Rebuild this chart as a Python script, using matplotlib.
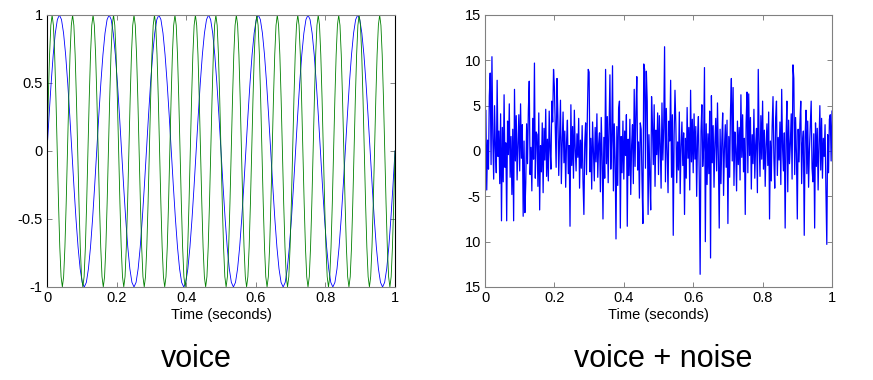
import numpy as np
import matplotlib
matplotlib.use("Agg")
import matplotlib.pyplot as plt

plt.rcParams['font.family'] = ['Liberation Sans', 'DejaVu Sans']

# voice tone 1 (7 Hz), 24 samples per cycle, one cycle per row
tone_low = [
    0, .259, .5, .707, .866, .966, 1, .966, .866, .707, .5, .259, 0, -.259, -.5, -.707, -.866, -.966, -1, -.966, -.866, -.707, -.5, -.259,
    0, .259, .5, .707, .866, .966, 1, .966, .866, .707, .5, .259, 0, -.259, -.5, -.707, -.866, -.966, -1, -.966, -.866, -.707, -.5, -.259,
    0, .259, .5, .707, .866, .966, 1, .966, .866, .707, .5, .259, 0, -.259, -.5, -.707, -.866, -.966, -1, -.966, -.866, -.707, -.5, -.259,
    0, .259, .5, .707, .866, .966, 1, .966, .866, .707, .5, .259, 0, -.259, -.5, -.707, -.866, -.966, -1, -.966, -.866, -.707, -.5, -.259,
    0, .259, .5, .707, .866, .966, 1, .966, .866, .707, .5, .259, 0, -.259, -.5, -.707, -.866, -.966, -1, -.966, -.866, -.707, -.5, -.259,
    0, .259, .5, .707, .866, .966, 1, .966, .866, .707, .5, .259, 0, -.259, -.5, -.707, -.866, -.966, -1, -.966, -.866, -.707, -.5, -.259,
    0, .259, .5, .707, .866, .966, 1, .966, .866, .707, .5, .259, 0, -.259, -.5, -.707, -.866, -.966, -1, -.966, -.866, -.707, -.5, -.259,
    0,
]

# voice tone 2 (17 Hz), 16 samples per cycle, one cycle per row
tone_high = [
    0, .383, .707, .924, 1, .924, .707, .383, 0, -.383, -.707, -.924, -1, -.924, -.707, -.383,
    0, .383, .707, .924, 1, .924, .707, .383, 0, -.383, -.707, -.924, -1, -.924, -.707, -.383,
    0, .383, .707, .924, 1, .924, .707, .383, 0, -.383, -.707, -.924, -1, -.924, -.707, -.383,
    0, .383, .707, .924, 1, .924, .707, .383, 0, -.383, -.707, -.924, -1, -.924, -.707, -.383,
    0, .383, .707, .924, 1, .924, .707, .383, 0, -.383, -.707, -.924, -1, -.924, -.707, -.383,
    0, .383, .707, .924, 1, .924, .707, .383, 0, -.383, -.707, -.924, -1, -.924, -.707, -.383,
    0, .383, .707, .924, 1, .924, .707, .383, 0, -.383, -.707, -.924, -1, -.924, -.707, -.383,
    0, .383, .707, .924, 1, .924, .707, .383, 0, -.383, -.707, -.924, -1, -.924, -.707, -.383,
    0, .383, .707, .924, 1, .924, .707, .383, 0, -.383, -.707, -.924, -1, -.924, -.707, -.383,
    0, .383, .707, .924, 1, .924, .707, .383, 0, -.383, -.707, -.924, -1, -.924, -.707, -.383,
    0, .383, .707, .924, 1, .924, .707, .383, 0, -.383, -.707, -.924, -1, -.924, -.707, -.383,
    0, .383, .707, .924, 1, .924, .707, .383, 0, -.383, -.707, -.924, -1, -.924, -.707, -.383,
    0, .383, .707, .924, 1, .924, .707, .383, 0, -.383, -.707, -.924, -1, -.924, -.707, -.383,
    0, .383, .707, .924, 1, .924, .707, .383, 0, -.383, -.707, -.924, -1, -.924, -.707, -.383,
    0, .383, .707, .924, 1, .924, .707, .383, 0, -.383, -.707, -.924, -1, -.924, -.707, -.383,
    0, .383, .707, .924, 1, .924, .707, .383, 0, -.383, -.707, -.924, -1, -.924, -.707, -.383,
    0, .383, .707, .924, 1, .924, .707, .383, 0, -.383, -.707, -.924, -1, -.924, -.707, -.383,
    0,
]

# voice + noise, 20 samples per 0.05 s
noisy = [
    0.5, 4.5, -4.3, 1.2, -2.0, 6.1, 8.6, -1.5, 10.4, 1.4, -3.1, 5.0, 0.3, -2.4, 7.8, -0.6, 2.2, -3.6, 4.1, -7.7,
    2.6, -3.4, 6.2, -1.8, 0.9, -7.7, 3.3, -0.4, 5.2, -2.9, 1.6, -4.8, 2.4, -7.7, 6.8, -1.1, 3.9, -3.2, 0.7, 4.0,
    -2.2, 5.2, -0.8, 2.9, -7.2, 1.1, -6.8, -3.5, 3.0, -1.4, 4.5, 7.7, -2.6, 0.4, -4.4, 3.6, -0.9, 9.7, -3.0, 2.1,
    1.8, -3.9, 4.2, -6.5, 0.6, -2.3, 3.1, -4.6, 2.5, -1.0, 4.6, -2.8, 1.3, -3.3, 4.4, 0.2, -2.0, 5.5, 3.2, 9.0,
    7.0, 2.4, -1.8, 8.0, 3.9, -2.7, 1.5, 5.6, -3.6, 0.8, 4.3, -1.3, 2.2, -4.0, 1.0, 3.4, -2.5, 0.6, -8.3, 5.1,
    -1.6, 2.7, -3.0, 4.5, 0.3, -2.2, 1.9, -0.7, 3.6, -4.1, 1.2, -1.9, 2.8, -3.4, -7.0, 0.9, 3.1, -2.6, 4.0, 9.0,
    8.7, -2.3, 1.4, -4.2, 3.2, 0.1, -3.3, 2.6, -1.2, 4.1, -2.9, 0.8, 2.0, -4.5, 3.7, -0.6, -7.5, 1.5, -3.0, 9.0,
    -1.4, 3.8, -3.5, 2.1, 8.4, -2.0, 1.1, 9.4, -4.4, 3.0, -0.9, -9.7, 2.7, -3.8, 4.6, 5.5, -8.5, 1.6, -2.4, 3.3,
    -3.1, 2.2, -0.5, 4.0, -8.3, 1.3, -2.7, 3.5, -4.8, 0.6, 2.9, -3.6, 6.8, -1.7, 4.4, 8.2, -2.1, 1.0, -5.2, 3.1,
    2.4, -3.3, -8.0, 9.6, 9.0, -1.9, 8.8, 5.5, -7.0, 1.8, -2.8, -6.5, 6.0, 3.0, -1.5, 5.1, -3.9, 2.3, -0.4, 4.2,
    -2.6, 3.9, 0.7, -4.1, 5.3, -1.0, 2.5, 11.5, -3.4, 4.7, -0.2, -4.6, 3.3, 1.1, 7.8, -2.9, 4.0, -9.3, 1.7, 6.7,
    2.9, -3.5, 1.0, -2.1, 4.3, -4.7, 0.5, 3.2, -1.6, 2.0, -7.0, 1.4, -3.0, 4.8, -0.8, 2.6, -4.3, 6.7, -1.2, 3.5,
    -2.4, 4.1, -0.9, 2.7, -5.0, 1.5, 3.8, -3.1, -13.6, 2.2, 5.1, -1.7, 0.4, 9.2, -10.0, 3.0, -3.7, 1.9, -2.5, 4.4,
    -11.8, 6.1, -1.3, 2.8, -4.0, 0.9, 3.6, -2.2, 5.3, -0.6, -8.5, 2.4, -3.6, 1.2, 4.2, -4.9, 0.3, 2.9, -1.8, 3.4,
    -8.0, 1.6, -2.9, 4.5, 8.0, -1.1, 7.0, -3.8, 2.1, 0.2, -4.4, 3.3, -1.5, 2.6, -3.2, 6.2, -0.7, 4.0, -2.3, 1.4,
    -7.0, 3.1, 6.5, -2.4, 6.3, -0.5, 3.7, -4.2, 1.8, -1.4, 4.6, -3.0, 0.7, 2.5, -4.6, 9.0, 1.2, -2.8, 3.9, -0.9,
    5.5, -2.0, 2.3, -3.9, 0.6, 3.0, -1.6, 4.3, -7.5, 1.1, -3.3, 2.7, 6.0, -0.8, -4.1, 3.6, 5.5, -2.7, 1.5, -1.0,
    3.2, -3.7, 6.8, 0.4, -2.2, 2.0, -8.5, 1.3, 5.5, -4.5, 3.4, -1.4, 0.8, 4.1, -3.1, 9.5, 8.0, -2.6, 3.7, -0.3,
    -7.5, 2.4, -1.2, 3.0, 5.5, -3.6, 0.9, 2.2, -9.3, 1.6, 4.5, -2.5, 3.3, -4.0, 0.2, 2.8, 5.5, -1.9, -3.4, 1.9,
    -8.5, 3.1, -1.7, 2.5, -4.3, 0.7, 5.0, -2.1, 3.6, -3.0, 1.4, -0.6, 2.9, -4.4, -10.3, 1.8, -2.4, 3.5, 4.0, -1.1,
    4.4,
]

x_ticks = [0, 0.2, 0.4, 0.6, 0.8, 1]
x_ticklabels = ['0', '0.2', '0.4', '0.6', '0.8', '1']
left_yticks = [-1, -0.5, 0, 0.5, 1]
left_yticklabels = ['-1', '-0.5', '0', '0.5', '1']
right_yticks = [-15, -10, -5, 0, 5, 10, 15]
right_yticklabels = ['15', '10', '-5', '0', '5', '10', '15']

t_low = np.linspace(0, 1, len(tone_low))
t_high = np.linspace(0, 1, len(tone_high))
t_noisy = np.linspace(0, 1, len(noisy))

fig = plt.figure(figsize=(8.73, 3.8), dpi=100)
ax1 = fig.add_axes([47/873, 93/380, 348/873, 272/380])
ax2 = fig.add_axes([485/873, 93/380, 347/873, 272/380])

ax1.plot(t_low, tone_low, color='#0000ff', lw=0.6)
ax1.plot(t_high, tone_high, color='#008000', lw=0.6)
ax2.plot(t_noisy, noisy, color='#0000ff', lw=0.9)

def style(ax, yticks, yticklabels, ylim):
    ax.set_xlim(0, 1)
    ax.set_ylim(*ylim)
    ax.set_xticks(x_ticks)
    ax.set_xticklabels(x_ticklabels)
    ax.set_yticks(yticks)
    ax.set_yticklabels(yticklabels)
    ax.tick_params(direction='in', length=3.5, width=0.6, color='#707070',
                   labelsize=10.5, labelcolor='black', top=True, right=True, pad=3)
    for s in ax.spines.values():
        s.set_color('#808080')
        s.set_linewidth(0.8)
    ax.set_xlabel('Time (seconds)', fontsize=10.5, labelpad=2)

style(ax1, left_yticks, left_yticklabels, (-1, 1))
style(ax2, right_yticks, right_yticklabels, (-15, 15))
ax1.spines['left'].set_color('black')
ax1.spines['right'].set_color('black')

fig.text(196/873, 1 - 359/380, 'voice', fontsize=22, ha='center', va='center')
fig.text(663/873, 1 - 359/380, 'voice + noise', fontsize=22, ha='center', va='center')

fig.savefig('out.png', dpi=100)
